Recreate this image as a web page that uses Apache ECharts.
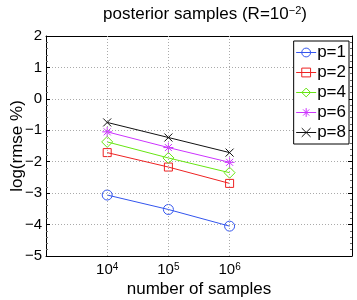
<!DOCTYPE html>
<html><head><meta charset="utf-8">
<script src="https://cdn.jsdelivr.net/npm/echarts@6/dist/echarts.min.js"></script>
<style>html,body{margin:0;padding:0;background:#fff}#c{width:357px;height:300px}</style>
</head><body><div id="c"></div>
<script>
// exponents of the sample counts (10^4, 10^5, 10^6)
const sampleExp = [4, 5, 6];
const xTickExp = [4, 5, 6];
const seriesNames = ['p=1', 'p=2', 'p=4', 'p=6', 'p=8'];
const p1 = [-3.06, -3.52, -4.05];
const p2 = [-1.71, -2.17, -2.69];
const p4 = [-1.37, -1.88, -2.35];
const p6 = [-1.05, -1.55, -2.02];
const p8 = [-0.75, -1.23, -1.71];

const FONT = 'Liberation Sans, Arial, Helvetica, sans-serif';
const colors = ['#3355ee', '#ee2222', '#66e611', '#cc33ff', '#111111'];
const symbols = [
  'circle',
  'rect',
  'diamond',
  'path://M5,0L5,10M0,5L10,5M1.5,1.5L8.5,8.5M8.5,1.5L1.5,8.5',
  'path://M0,0L10,10M10,0L0,10'
];
const sizes = [10, 8, 11, 10, 8];
const values = [p1, p2, p4, p6, p8];

const series = values.map((v, i) => ({
  name: seriesNames[i],
  type: 'line',
  data: sampleExp.map((e, j) => [e, v[j]]),
  symbol: symbols[i],
  symbolSize: sizes[i],
  showAllSymbol: true,
  lineStyle: { color: colors[i], width: 1 },
  itemStyle: { color: 'rgba(0,0,0,0)', borderColor: colors[i], borderWidth: 1 },
  emphasis: { disabled: true },
  animation: false,
  z: 3
}));

// vertical dotted grid lines at the labelled decades
series.push({
  type: 'line',
  data: [],
  silent: true,
  animation: false,
  markLine: {
    symbol: 'none',
    silent: true,
    label: { show: false },
    lineStyle: { color: '#aaaaaa', type: [1, 2], width: 1 },
    data: xTickExp.map(e => ({ xAxis: e }))
  }
});

const opt = {
  animation: false,
  title: {
    text: 'posterior samples (R=10{s|−2})',
    left: 200, top: 0, textAlign: 'center',
    textStyle: {
      fontFamily: FONT, fontSize: 17, fontWeight: 'normal', color: '#000',
      rich: { s: { fontFamily: FONT, fontSize: 11, verticalAlign: 'top', color: '#000', padding: [0, 0, 7, 0] } }
    }
  },
  legend: {
    orient: 'vertical', right: 8, top: 41,
    data: seriesNames.map((n, i) => ({
      name: n,
      itemStyle: { color: 'rgba(0,0,0,0)', borderColor: colors[i], borderWidth: 1 },
      lineStyle: { color: colors[i], width: 1 }
    })),
    itemWidth: 20, itemHeight: 11, itemGap: 3,
    padding: [3, 3, 3, 2],
    borderColor: '#000', borderWidth: 1, borderRadius: 0,
    backgroundColor: '#fff',
    textStyle: { fontFamily: FONT, fontSize: 17, color: '#000', padding: [0, 0, 0, -4] },
    selectedMode: false
  },
  grid: { left: 46, top: 36, right: 5, bottom: 44, show: false, outerBoundsMode: 'none', containLabel: false },
  xAxis: [{
    type: 'value', min: 3, max: 8, interval: 1,
    name: 'number of samples', nameLocation: 'middle', nameGap: 25, nameMoveOverlap: false,
    nameTextStyle: { fontFamily: FONT, fontSize: 17, color: '#000' },
    axisLine: { show: true, onZero: false, lineStyle: { color: '#000', width: 1 } },
    axisTick: { show: false },
    splitLine: { show: false },
    axisLabel: {
      fontFamily: FONT, fontSize: 15, color: '#000', margin: 6,
      formatter: v => xTickExp.indexOf(v) >= 0 ? '10{s|' + v + '}' : '',
      rich: { s: { fontFamily: FONT, fontSize: 10, verticalAlign: 'top', color: '#000', padding: [0, 0, 6, 0] } }
    }
  }, {
    type: 'value', min: 3, max: 8, position: 'top',
    axisLine: { show: true, onZero: false, lineStyle: { color: '#000', width: 1 } },
    axisTick: { show: false }, axisLabel: { show: false }, splitLine: { show: false }
  }],
  yAxis: [{
    type: 'value', min: -5, max: 2, interval: 1,
    name: 'log(rmse %)', nameLocation: 'middle', nameGap: 20, nameMoveOverlap: false,
    nameTextStyle: { fontFamily: FONT, fontSize: 17, color: '#000' },
    axisLine: { show: true, onZero: false, lineStyle: { color: '#000', width: 1 } },
    axisTick: { show: true, inside: true, length: 4, lineStyle: { color: '#000' } },
    minorTick: { show: true, splitNumber: 5, length: 2, lineStyle: { color: '#666' } },
    splitLine: { show: true, lineStyle: { color: '#aaaaaa', type: [1, 2], width: 1 } },
    axisLabel: {
      fontFamily: FONT, fontSize: 15, color: '#000', margin: 4,
      formatter: v => (v < 0 ? '−' + Math.abs(v) : '' + v)
    }
  }, {
    type: 'value', min: -5, max: 2, interval: 1, position: 'right',
    axisLine: { show: true, onZero: false, lineStyle: { color: '#000', width: 1 } },
    axisTick: { show: true, inside: true, length: 4, lineStyle: { color: '#000' } },
    minorTick: { show: true, splitNumber: 5, length: 2, lineStyle: { color: '#666' } },
    axisLabel: { show: false }, splitLine: { show: false }
  }],
  series: series
};
const chart = echarts.init(document.getElementById('c'), null, { renderer: 'canvas' });
chart.setOption(opt);
</script></body></html>
